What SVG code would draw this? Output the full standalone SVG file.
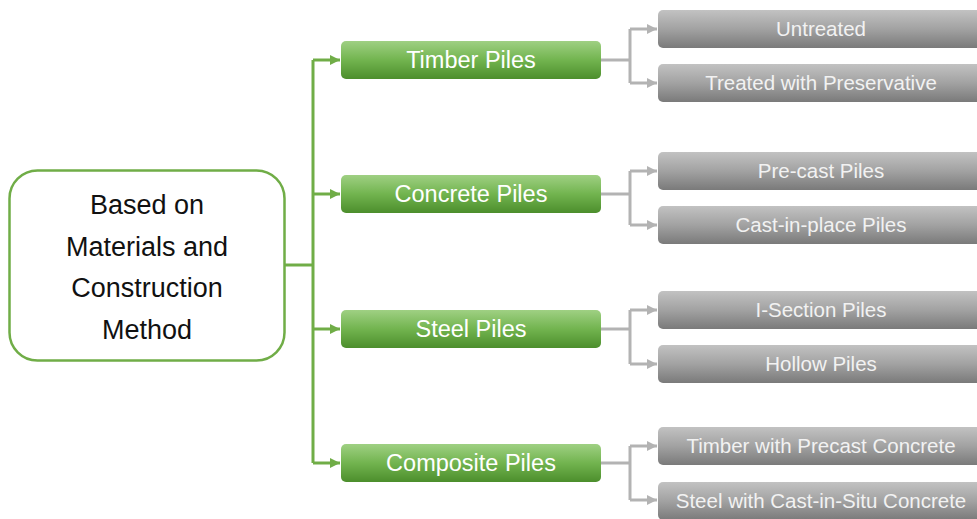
<svg xmlns="http://www.w3.org/2000/svg" width="977" height="519" viewBox="0 0 977 519">
  <defs>
    <linearGradient id="gGreen" x1="0" y1="0" x2="0" y2="1">
      <stop offset="0" stop-color="#9fd083"/>
      <stop offset="0.5" stop-color="#72b44f"/>
      <stop offset="1" stop-color="#4c8e2c"/>
    </linearGradient>
    <linearGradient id="gGrey" x1="0" y1="0" x2="0" y2="1">
      <stop offset="0" stop-color="#c2c2c2"/>
      <stop offset="0.5" stop-color="#a2a2a2"/>
      <stop offset="1" stop-color="#7a7a7a"/>
    </linearGradient>
    <marker id="aG" viewBox="0 0 10 10" refX="10" refY="5" markerWidth="3.4" markerHeight="3.4" orient="auto" markerUnits="strokeWidth">
      <path d="M0,0 L10,5 L0,10 Z" fill="#70ad47"/>
    </marker>
    <marker id="aY" viewBox="0 0 10 10" refX="10" refY="5" markerWidth="3.4" markerHeight="3.4" orient="auto" markerUnits="strokeWidth">
      <path d="M0,0 L10,5 L0,10 Z" fill="#b3b3b3"/>
    </marker>
  </defs>
  <style>
    .gl { fill: none; stroke: #70ad47; stroke-width: 3; }
    .yl { fill: none; stroke: #b3b3b3; stroke-width: 3; }
    .root { fill: #ffffff; stroke: #70ad47; stroke-width: 2.5; }
    .gbox { fill: url(#gGreen); }
    .ybox { fill: url(#gGrey); }
    .rt { font-family: "Liberation Sans", Arial, sans-serif; font-size: 27px; fill: #111111; text-anchor: middle; }
    .gt { font-family: "Liberation Sans", Arial, sans-serif; font-size: 23.5px; fill: #ffffff; text-anchor: middle; }
    .yt { font-family: "Liberation Sans", Arial, sans-serif; font-size: 20.5px; fill: #f2f2f2; text-anchor: middle; }
  </style>
  <rect width="977" height="519" fill="#ffffff"/>

  <g id="connectors">
    <path class="gl" d="M284,265 H313"/>
    <path class="gl" d="M313,60 V463"/>
    <path class="gl" d="M313,60 H340" marker-end="url(#aG)"/>
    <path class="gl" d="M313,194 H340" marker-end="url(#aG)"/>
    <path class="gl" d="M313,329 H340" marker-end="url(#aG)"/>
    <path class="gl" d="M313,463 H340" marker-end="url(#aG)"/>

    <path class="yl" d="M601,60 H630 M630,29 V83"/>
    <path class="yl" d="M630,29 H657" marker-end="url(#aY)"/>
    <path class="yl" d="M630,83 H657" marker-end="url(#aY)"/>

    <path class="yl" d="M601,194 H630 M630,171 V225"/>
    <path class="yl" d="M630,171 H657" marker-end="url(#aY)"/>
    <path class="yl" d="M630,225 H657" marker-end="url(#aY)"/>

    <path class="yl" d="M601,329 H630 M630,310 V364"/>
    <path class="yl" d="M630,310 H657" marker-end="url(#aY)"/>
    <path class="yl" d="M630,364 H657" marker-end="url(#aY)"/>

    <path class="yl" d="M601,463 H630 M630,446 V500"/>
    <path class="yl" d="M630,446 H657" marker-end="url(#aY)"/>
    <path class="yl" d="M630,500 H657" marker-end="url(#aY)"/>
  </g>

  <g id="root">
    <rect class="root" x="9.5" y="170.5" width="275" height="190" rx="28"/>
    <text class="rt" x="147" y="214">Based on</text>
    <text class="rt" x="147" y="256">Materials and</text>
    <text class="rt" x="147" y="297">Construction</text>
    <text class="rt" x="147" y="339">Method</text>
  </g>

  <g id="timber">
    <rect class="gbox" x="341" y="41" width="260" height="38" rx="5"/>
    <text class="gt" x="471" y="68">Timber Piles</text>
  </g>
  <g id="concrete">
    <rect class="gbox" x="341" y="175" width="260" height="38" rx="5"/>
    <text class="gt" x="471" y="202">Concrete Piles</text>
  </g>
  <g id="steel">
    <rect class="gbox" x="341" y="310" width="260" height="38" rx="5"/>
    <text class="gt" x="471" y="337">Steel Piles</text>
  </g>
  <g id="composite">
    <rect class="gbox" x="341" y="444" width="260" height="38" rx="5"/>
    <text class="gt" x="471" y="471">Composite Piles</text>
  </g>

  <g id="untreated">
    <rect class="ybox" x="658" y="10" width="330" height="38" rx="5"/>
    <text class="yt" x="821" y="36">Untreated</text>
  </g>
  <g id="treated">
    <rect class="ybox" x="658" y="64" width="330" height="38" rx="5"/>
    <text class="yt" x="821" y="90">Treated with Preservative</text>
  </g>
  <g id="precast">
    <rect class="ybox" x="658" y="152" width="330" height="38" rx="5"/>
    <text class="yt" x="821" y="178">Pre-cast Piles</text>
  </g>
  <g id="castinplace">
    <rect class="ybox" x="658" y="206" width="330" height="38" rx="5"/>
    <text class="yt" x="821" y="232">Cast-in-place Piles</text>
  </g>
  <g id="isection">
    <rect class="ybox" x="658" y="291" width="330" height="38" rx="5"/>
    <text class="yt" x="821" y="317">I-Section Piles</text>
  </g>
  <g id="hollow">
    <rect class="ybox" x="658" y="345" width="330" height="38" rx="5"/>
    <text class="yt" x="821" y="371">Hollow Piles</text>
  </g>
  <g id="timberprecast">
    <rect class="ybox" x="658" y="427" width="330" height="38" rx="5"/>
    <text class="yt" x="821" y="453">Timber with Precast Concrete</text>
  </g>
  <g id="steelcast">
    <rect class="ybox" x="658" y="482" width="330" height="38" rx="5"/>
    <text class="yt" x="821" y="508">Steel with Cast-in-Situ Concrete</text>
  </g>
</svg>
